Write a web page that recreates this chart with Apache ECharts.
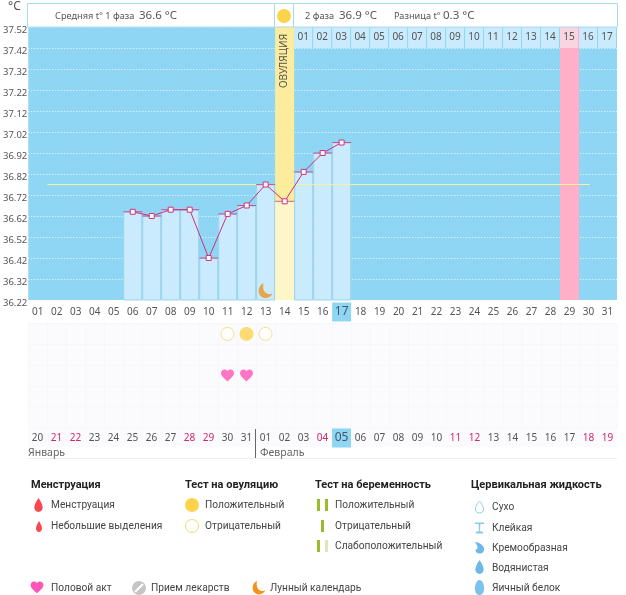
<!DOCTYPE html>
<html lang="ru">
<head>
  <meta charset="UTF-8" />
  <title>График базальной температуры</title>
  <script src="https://cdn.jsdelivr.net/npm/echarts@6/dist/echarts.min.js"></script>
  <style>
    html, body { margin: 0; padding: 0; background: #fff; }
    #chart { width: 626px; height: 595px; }
  </style>
</head>
<body>
  <div id="chart"></div>
  <script>
    // данные графика
    const cycleDays = ['01','02','03','04','05','06','07','08','09','10','11','12','13','14','15','16','17','18','19','20','21','22','23','24','25','26','27','28','29','30','31'];
    const calendarDays = ['20','21','22','23','24','25','26','27','28','29','30','31','01','02','03','04','05','06','07','08','09','10','11','12','13','14','15','16','17','18','19'];
    const weekendDays = [1, 2, 8, 9, 15, 22, 23, 29, 30];
    const phaseDays = ['01','02','03','04','05','06','07','08','09','10','11','12','13','14','15','16','17'];
    const yTicks = [36.22, 36.32, 36.42, 36.52, 36.62, 36.72, 36.82, 36.92, 37.02, 37.12, 37.22, 37.32, 37.42, 37.52];
    const temperatures = [null, null, null, null, null, 36.64, 36.62, 36.65, 36.65, 36.42, 36.63, 36.67, 36.77, 36.69, 36.83, 36.92, 36.97];
    const meanTemp = 36.77;
    const ovulationDay = 13;
    const pinkDay = 28;
    const todayCycle = '17';
    const todayCalendar = '05';
    const testRows = ['Тест на овуляцию', 'Тест на беременность', 'Половой акт', 'Цервикальная жидкость', 'Менструация'];
    const testPositive = [[11, 0]];
    const testNegative = [[10, 0], [12, 0]];
    const intercourse = [[10, 2], [11, 2]];
    const moonDays = [[12, 36.265]];

    const FONT = '"Noto Sans", sans-serif';
    const LEGEND_FONT = 'Roboto, sans-serif';
    const BLUE = '#8fd6f4';
    const LIGHT = '#c9ebfd';
    const GREY = '#555';

    // контуры значков в поле 24x24
    const HEART = 'M12 21C5 15 1 11.5 1 7C1 3.5 3.7 1 7 1C9 1 11 2 12 4C13 2 15 1 17 1C20.3 1 23 3.5 23 7C23 11.5 19 15 12 21Z';
    const MOON = 'M9 0C4 2 1 6 1 12C1 18 6 23 12 23C17 23 21 20 23 16C19 18 15 17 12 15C8 12 7 5 9 0Z';
    const DROP = 'M12 0C12 0 3 10 3 16C3 21 7 24 12 24C17 24 21 21 21 16C21 10 12 0 12 0Z';
    const CREAM = 'M2 2C10 2 22 8 22 15C22 20 18 23 13 23C7 23 3 20 3 16C8 16 11 12 2 2Z';
    const GLASS = 'M2 1H22V4H14L13 18L20 20V23H4V20L11 18L10 4H2Z';
    const EGG = 'M12 0C18 0 22 7 22 14C22 20 18 24 12 24C6 24 2 20 2 14C2 7 6 0 12 0Z';

    const iconShapes = { heart: HEART, moon: MOON, drop: DROP, cream: CREAM, glass: GLASS, egg: EGG };
    Object.keys(iconShapes).forEach(k => {
      echarts.graphic.registerShape(k, echarts.graphic.extendPath(iconShapes[k]));
    });

    function text(x, y, str, size, opt) {
      return {
        type: 'text', x: x, y: y, z: 10,
        style: Object.assign({ text: str, fill: GREY, font: size + 'px ' + FONT, textVerticalAlign: 'middle' }, opt || {})
      };
    }
    function legendText(x, y, str) {
      return text(x, y, str, 10.2, { fill: '#444', font: '10.2px ' + LEGEND_FONT });
    }
    function boldText(x, y, str) {
      return text(x, y, str, 11, { fill: '#222', font: 'bold 11px ' + LEGEND_FONT });
    }
    function circle(x, y, r, fill, stroke) {
      return { type: 'circle', z: 10, shape: { cx: x, cy: y, r: r }, style: { fill: fill, stroke: stroke || null, lineWidth: 1 } };
    }
    function rect(x, y, w, h, fill, stroke) {
      return { type: 'rect', z: 10, shape: { x: x, y: y, width: w, height: h }, style: { fill: fill, stroke: stroke || null, lineWidth: 1 } };
    }
    function icon(name, x, y, w, h, style) {
      return { type: name, z: 10, x: x, y: y, scaleX: w / 24, scaleY: h / 24, style: style };
    }

    // шапка и легенда
    const graphics = [
      { type: 'rect', z: -1, shape: { x: 28, y: 323, width: 589, height: 124 }, style: { fill: '#fbfafd' } },
      rect(27.5, 3.5, 590, 23.5, '#fff', '#a9dbe9'),
      { type: 'line', z: 11, shape: { x1: 274.5, y1: 3, x2: 274.5, y2: 27 }, style: { stroke: '#a9dbe9' } },
      { type: 'line', z: 11, shape: { x1: 293.5, y1: 3, x2: 293.5, y2: 27 }, style: { stroke: '#a9dbe9' } },
      circle(284, 16, 7, '#fdd34c'),
      text(8, 7, '°C', 12),
      text(55, 16, 'Средняя t° 1 фаза', 9.2),
      text(139, 16, '36.6 °C', 11.5),
      text(305, 16, '2 фаза', 9.2),
      text(339, 16, '36.9 °C', 11.5),
      text(394, 16, 'Разница t°', 9.2),
      text(443, 16, '0.3 °C', 11.5),
      {
        type: 'text', z: 12, x: 284, y: 61, rotation: Math.PI / 2,
        style: { text: 'ОВУЛЯЦИЯ', fill: '#555', font: '10px ' + FONT, textAlign: 'center', textVerticalAlign: 'middle' }
      },
      { type: 'line', z: 10, shape: { x1: 255.5, y1: 429, x2: 255.5, y2: 458 }, style: { stroke: '#666' } },
      { type: 'line', z: 10, shape: { x1: 27, y1: 458.5, x2: 617, y2: 458.5 }, style: { stroke: '#eee' } },
      text(28, 453, 'Январь', 10.5, { fill: '#666' }),
      text(260, 453, 'Февраль', 10.5, { fill: '#666' }),

      boldText(31, 485, 'Менструация'),
      icon('drop', 33, 498, 11, 14, { fill: '#f8484f' }),
      legendText(51, 505, 'Менструация'),
      icon('drop', 35, 521, 8, 11, { fill: '#f8484f' }),
      legendText(51, 526, 'Небольшие выделения'),

      boldText(185, 485, 'Тест на овуляцию'),
      circle(192, 505, 7, '#fdd34c'),
      legendText(205, 505, 'Положительный'),
      circle(192, 526, 6.5, '#fff', '#f3d973'),
      legendText(205, 526, 'Отрицательный'),

      boldText(315, 485, 'Тест на беременность'),
      rect(317, 499, 3, 12, '#97bc2c'),
      rect(325, 499, 3, 12, '#97bc2c'),
      legendText(335, 505, 'Положительный'),
      rect(321, 520, 3, 12, '#97bc2c'),
      legendText(335, 526, 'Отрицательный'),
      rect(317, 540, 3, 12, '#97bc2c'),
      rect(325, 540, 3, 12, '#dfe6bb'),
      legendText(335, 546, 'Слабоположительный'),

      boldText(471, 485, 'Цервикальная жидкость'),
      icon('drop', 474, 501, 11, 12, { fill: '#fff', stroke: '#8cc9ea', lineWidth: 2 }),
      legendText(492, 507, 'Сухо'),
      icon('glass', 474, 522, 11, 12, { fill: '#8cc9ea' }),
      legendText(492, 528, 'Клейкая'),
      icon('cream', 474, 541, 11, 13, { fill: '#6cb8e8' }),
      legendText(492, 548, 'Кремообразная'),
      icon('drop', 474, 560, 11, 14, { fill: '#6cb8e8' }),
      legendText(492, 568, 'Водянистая'),
      icon('egg', 474, 580, 11, 15, { fill: '#7cc2ee' }),
      legendText(492, 588, 'Яичный белок'),

      icon('heart', 30, 581, 14, 14, { fill: '#ff55b4' }),
      legendText(51, 588, 'Половой акт'),
      circle(139, 588, 7, '#c5c5c5'),
      { type: 'line', z: 11, shape: { x1: 135, y1: 592, x2: 143, y2: 584 }, style: { stroke: '#fff', lineWidth: 2 } },
      legendText(151, 588, 'Прием лекарств'),
      icon('moon', 252, 581, 14, 14, { fill: '#f0941e' }),
      legendText(270, 588, 'Лунный календарь')
    ];

    const todayRich = { today: { backgroundColor: BLUE, width: 19, height: 19, lineHeight: 19, align: 'center', fontSize: 12, color: '#456' } };

    const option = {
      animation: false,
      backgroundColor: '#fff',
      textStyle: { fontFamily: FONT },
      graphic: { elements: graphics },
      grid: [
        { left: 28, top: 27, width: 589, height: 273, show: true, backgroundColor: BLUE, borderWidth: 0 },
        { left: 28, top: 323.5, width: 589, height: 104, show: false }
      ],
      xAxis: [
        {
          type: 'category', gridIndex: 0, data: cycleDays,
          axisLine: { show: false }, axisTick: { show: false },
          axisLabel: {
            interval: 0, margin: 12, verticalAlign: 'middle', fontSize: 10, color: GREY,
            formatter: v => v === todayCycle ? '{today|' + v + '}' : v,
            rich: todayRich
          }
        },
        {
          type: 'category', gridIndex: 1, data: calendarDays,
          axisLine: { show: false }, axisTick: { show: false },
          splitLine: { show: true, interval: 0, lineStyle: { color: '#f7f6fa' } },
          axisLabel: {
            interval: 0, margin: 10.5, verticalAlign: 'middle', fontSize: 10,
            color: (v, i) => weekendDays.includes(i) ? '#d4246a' : GREY,
            formatter: v => v === todayCalendar ? '{today|' + v + '}' : v,
            rich: todayRich
          }
        }
      ],
      yAxis: [
        {
          type: 'value', gridIndex: 0, min: 36.22, max: 37.52,
          axisLine: { show: false },
          axisTick: { show: false, customValues: yTicks },
          splitLine: { show: true, lineStyle: { color: '#fff', type: [1, 2], width: 1, opacity: 0.9 } },
          axisLabel: {
            customValues: yTicks, margin: 1, fontSize: 9.5, color: GREY,
            verticalAlign: 'top', lineHeight: 6,
            formatter: v => v.toFixed(2)
          }
        },
        {
          type: 'category', gridIndex: 1, data: testRows, inverse: true,
          axisLine: { show: false }, axisTick: { show: false }, axisLabel: { show: false },
          splitLine: { show: true, interval: 0, lineStyle: { color: '#f7f6fa' } }
        }
      ],
      series: [
        {
          name: 'Овуляция', type: 'bar', barWidth: 19, barGap: '-100%', z: 2, silent: true,
          data: cycleDays.map((d, i) => i === ovulationDay ? 37.52 : null),
          itemStyle: { color: '#fdec9c' }
        },
        {
          name: 'Розовый день', type: 'bar', barWidth: 19, barGap: '-100%', z: 2, silent: true,
          data: cycleDays.map((d, i) => i === pinkDay ? 37.52 : null),
          itemStyle: { color: '#ffb0c8' }
        },
        {
          name: 'Температура, столбцы', type: 'bar', barWidth: 19, barGap: '-100%', z: 3, silent: true,
          data: temperatures.map((t, i) => ({
            value: t,
            itemStyle: i === ovulationDay ? { color: '#fdf6c8', borderWidth: 0 } : undefined
          })),
          itemStyle: { color: LIGHT, borderColor: '#9fd4ea', borderWidth: 1 }
        },
        {
          // дни второй фазы над графиком
          name: 'Дни фазы', type: 'custom', z: 4, silent: true,
          data: phaseDays.map((d, i) => [i + ovulationDay + 1, d]),
          encode: { x: 0 },
          renderItem: (params, api) => {
            const idx = api.value(0);
            const top = api.coord([idx, 37.52]);
            const bottom = api.coord([idx, 37.42]);
            const w = api.size([1, 0])[0];
            return {
              type: 'group',
              children: [
                {
                  type: 'rect',
                  shape: { x: top[0] - w / 2, y: top[1], width: w - 1, height: bottom[1] - top[1] },
                  style: { fill: idx === pinkDay ? '#f9d5e1' : LIGHT }
                },
                {
                  type: 'text', x: top[0] - 0.5, y: (top[1] + bottom[1]) / 2,
                  style: { text: phaseDays[params.dataIndex], fill: GREY, font: '10px ' + FONT, textAlign: 'center', textVerticalAlign: 'middle' }
                }
              ]
            };
          }
        },
        {
          // средняя линия
          name: 'Средняя', type: 'custom', z: 5, silent: true,
          data: [[0, meanTemp]],
          encode: { x: 0, y: 1 },
          renderItem: (params, api) => {
            const w = api.size([1, 0])[0];
            const a = api.coord([0, api.value(1)]);
            const b = api.coord([29, api.value(1)]);
            return {
              type: 'line',
              shape: { x1: a[0] + w / 2, y1: a[1], x2: b[0] + 1.5, y2: b[1] },
              style: { stroke: '#f7f19a', lineWidth: 1 }
            };
          }
        },
        {
          name: 'Черта', type: 'scatter', z: 6, silent: true,
          symbol: 'rect', symbolSize: [19, 1],
          data: temperatures.map((t, i) => t === null ? null : [i, t]).filter(Boolean),
          itemStyle: { color: '#d2327e' }
        },
        {
          name: 'Температура', type: 'line', z: 7, silent: true,
          data: temperatures,
          connectNulls: false, symbol: 'rect', symbolSize: 5, showSymbol: true,
          lineStyle: { color: '#c9317c', width: 1 },
          itemStyle: { color: '#fff', borderColor: '#d2327e', borderWidth: 1 }
        },
        {
          name: 'Лунный календарь', type: 'scatter', z: 7, silent: true,
          symbol: 'path://' + MOON, symbolSize: [14, 15],
          data: moonDays,
          itemStyle: { color: '#f0941e' }
        },
        {
          name: 'Тест положительный', type: 'scatter', xAxisIndex: 1, yAxisIndex: 1, silent: true,
          symbol: 'circle', symbolSize: 14, data: testPositive,
          itemStyle: { color: '#fdd34c' }
        },
        {
          name: 'Тест отрицательный', type: 'scatter', xAxisIndex: 1, yAxisIndex: 1, silent: true,
          symbol: 'circle', symbolSize: 13, data: testNegative,
          itemStyle: { color: '#fff', borderColor: '#f3d973', borderWidth: 1 }
        },
        {
          name: 'Половой акт', type: 'scatter', xAxisIndex: 1, yAxisIndex: 1, silent: true,
          symbol: 'path://' + HEART, symbolSize: [13, 12], data: intercourse,
          itemStyle: { color: '#ff55b4' }
        }
      ]
    };

    const chart = echarts.init(document.getElementById('chart'));
    chart.setOption(option);
  </script>
</body>
</html>
